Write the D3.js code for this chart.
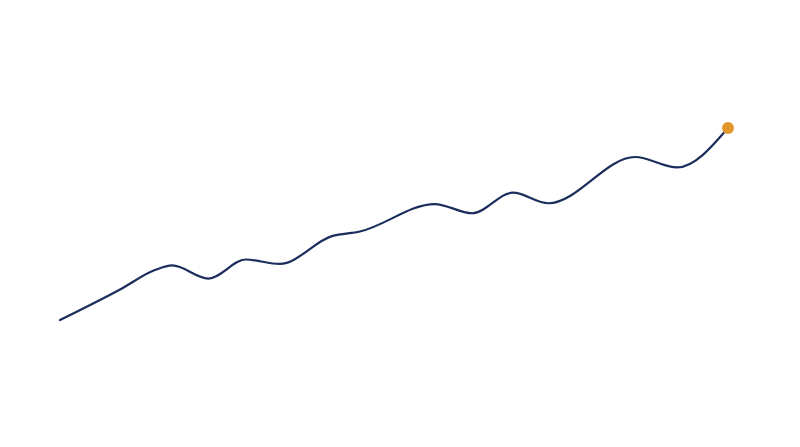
<!DOCTYPE html>
<html>
<head>
<meta charset="utf-8">
<script src="https://cdn.jsdelivr.net/npm/d3@7"></script>
<style>
  html, body { margin: 0; padding: 0; background: #fff; }
  svg { display: block; }
</style>
</head>
<body>
<script>
// x positions (arbitrary time units) and values
var xs = [0, 9.2, 14.2, 16.8, 22.2, 27.8, 32.9, 40.7, 44.9, 56.1, 61.7, 67.8, 73.1, 86.1, 92.4, 100];
var values = [0, 16.3, 26, 28.4, 21.6, 31.5, 29.2, 43.7, 46.1, 60.4, 55.6, 66.3, 60.8, 84.9, 79.5, 100];

var w = 800, h = 447;
var margin = { top: 128, right: 72, bottom: 127, left: 60 };

var svg = d3.select("body").append("svg").attr("width", w).attr("height", h);

var x = d3.scaleLinear().domain([0, 100]).range([margin.left, w - margin.right]);
var y = d3.scaleLinear().domain([0, 100]).range([h - margin.bottom, margin.top]);

var points = xs.map(function(d, i) { return [d, values[i]]; });

var line = d3.line()
	.x(function(d) { return x(d[0]); })
	.y(function(d) { return y(d[1]); })
	.curve(d3.curveMonotoneX);

svg.append("path")
	.datum(points)
	.attr("fill", "none")
	.attr("stroke", "#1b2d5c")
	.attr("stroke-width", 2.2)
	.attr("stroke-linecap", "round")
	.attr("d", line);

var last = points[points.length - 1];
svg.append("circle")
	.attr("cx", x(last[0]))
	.attr("cy", y(last[1]))
	.attr("r", 6)
	.attr("fill", "#df962a");
</script>
</body>
</html>
